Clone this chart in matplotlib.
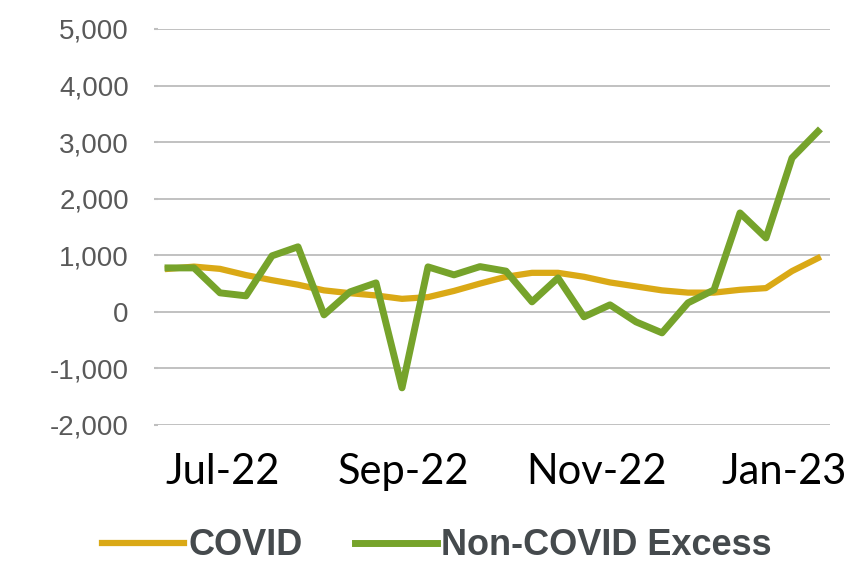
import matplotlib
matplotlib.use("Agg")
import matplotlib.pyplot as plt

# weekly deaths, late Jun 2022 - late Jan 2023
covid = [760, 800, 760, 650, 560, 480, 380, 330, 290, 230, 260, 370, 500,
         620, 690, 690, 620, 520, 450, 380, 340, 340, 390, 420, 720, 950]
non_covid = [777, 777, 336, 283, 990, 1150, -53, 353, 512, -1343, 795, 654, 800,
             720, 177, 600, -88, 124, -177, -371, 159, 389, 1749, 1307, 2720, 3190]
weeks = list(range(len(covid)))

month_ticks = [2.1, 9.05, 16.5, 23.7]
month_labels = ["Jul-22", "Sep-22", "Nov-22", "Jan-23"]
y_ticks = list(range(-2000, 5001, 1000))

fig = plt.figure(figsize=(8.65, 5.62), dpi=100)
ax = fig.add_axes([158 / 865, 1 - 425 / 562, (830 - 158) / 865, (425 - 29) / 562])

ax.plot(weeks, covid, color="#DAA916", lw=4.5, label="COVID", solid_joinstyle="round")
ax.plot(weeks, non_covid, color="#76A32B", lw=5, label="Non-COVID Excess", solid_joinstyle="round")

ax.set_xlim(-10 / 26, 25 + 12 / 26)
ax.set_ylim(-2000, 5000)
ax.set_yticks(y_ticks)
ax.set_yticklabels([f"{v:,}" for v in y_ticks], fontsize=20, color="#595959",
                   family="Liberation Sans")
ax.tick_params(axis="y", length=3, width=1.5, color="#bfbfbf", pad=18)
ax.set_xticks(month_ticks)
ax.set_xticklabels(month_labels, fontsize=30, family="Lato", color="black")
ax.tick_params(axis="x", length=0, pad=20)
ax.grid(axis="y", color="#bcbcbc", lw=1.3)
ax.set_axisbelow(True)
for s in ax.spines.values():
    s.set_visible(False)

fig.legend(loc="center", bbox_to_anchor=(0.505, 0.0285), ncol=2, frameon=False,
           handlelength=2.27, handletextpad=0.12, columnspacing=1.44, borderpad=0,
           prop={"family": "Liberation Sans", "weight": "bold", "size": 26},
           labelcolor="#454a4d")

fig.savefig("out.png", dpi=100)
